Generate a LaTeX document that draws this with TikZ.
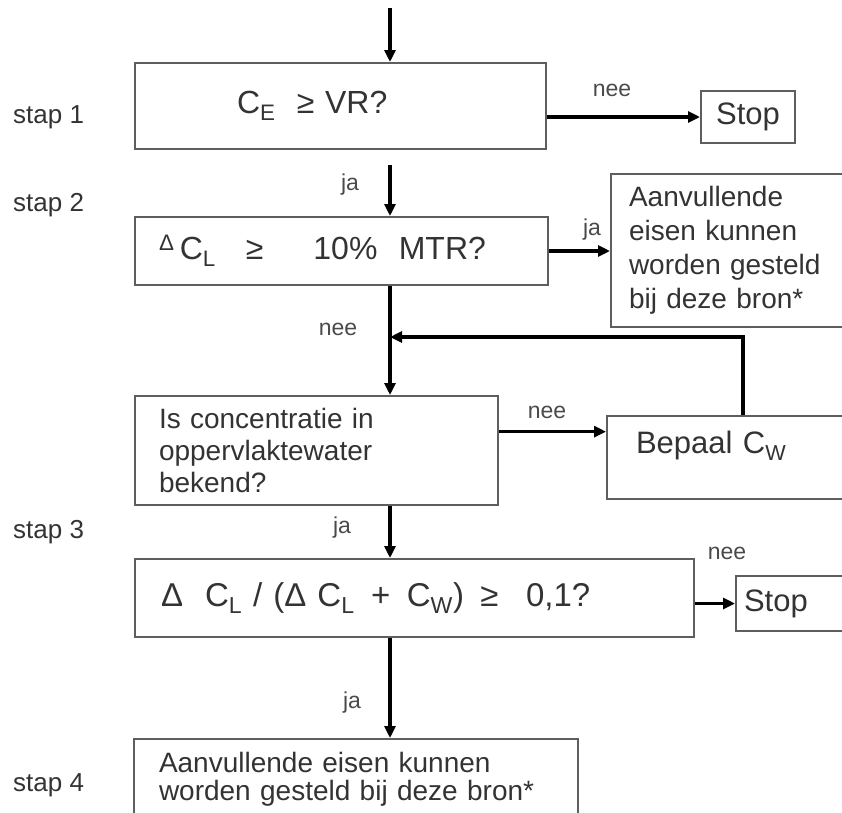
\documentclass[tikz,border=0pt]{standalone}
\usepackage{fontspec}
\setmainfont{Liberation Sans}
\usetikzlibrary{arrows.meta,positioning,calc}
\definecolor{boxgray}{HTML}{5E5E5E}
\definecolor{textgray}{HTML}{333333}
\definecolor{labgray}{HTML}{4A4A4A}

\begin{document}
\begin{tikzpicture}[x=1pt,y=-1pt,
    blok/.style={draw=boxgray,line width=2pt,anchor=north west,inner ysep=0pt,align=left,text=textgray},
    pijl/.style={-{Triangle[length=12pt,width=11pt]},line width=3.2pt},
    lab/.style={inner sep=0pt,text=labgray,font=\fontsize{23}{25}\selectfont},
    stap/.style={anchor=west,inner sep=0pt,text=textgray,font=\fontsize{26}{30}\selectfont}]
  \useasboundingbox (0,0) rectangle (842,812);
  % stappen links
  \foreach \n/\y in {1/117,2/205,3/532,4/785}
    \node[stap] (stap\n) at (13,\y) {stap \n};

  % blokken
  \node[blok,minimum width=411,minimum height=86,inner xsep=102,text width=207,
    font=\fontsize{32}{36}\selectfont] (vraag1) at (134,62) {C\textsubscript{E}\ \ ≥ VR?};
  \node[blok,minimum width=94,minimum height=52,inner xsep=5,text width=84,align=center,
    font=\fontsize{31}{34}\selectfont] (stop1) at (700,90) {Stop};
  \node[blok,minimum width=413,minimum height=68,inner xsep=24,text width=365,
    font=\fontsize{32}{36}\selectfont] (vraag2) at (134,216)
    {\textsuperscript{Δ}\,C\textsubscript{L}\hspace{30pt}≥\hspace{50pt}10\%\ \ MTR?};
  \node[blok,minimum width=260,minimum height=153,inner xsep=18,text width=224,
    font=\fontsize{28}{34}\selectfont] (advies1) at (610,173)
    {Aanvullende\\eisen kunnen\\worden gesteld\\bij deze bron*};
  \node[blok,minimum width=363,minimum height=109,inner xsep=24,text width=315,
    font=\fontsize{28}{32}\selectfont] (vraag3) at (134,395)
    {Is concentratie in\\oppervlaktewater\\bekend?};
  \node[blok,minimum width=272,minimum height=83,inner xsep=29,text width=214,text depth=30pt,
    font=\fontsize{31}{34}\selectfont] (bepaal) at (606,415) {Bepaal C\textsubscript{W}};
  \node[blok,minimum width=559,minimum height=78,inner xsep=26,text width=507,
    font=\fontsize{33}{36}\selectfont] (vraag4) at (134,558)
    {Δ\ \ C\textsubscript{L} / (Δ C\textsubscript{L}\,\ +\,\ C\textsubscript{W})\,\ ≥\ \ \,0,1?};
  \node[blok,minimum width=120,minimum height=55,inner xsep=8,text width=104,
    font=\fontsize{31}{34}\selectfont] (stop2) at (735,575) {Stop};
  \node[blok,minimum width=444,minimum height=80,inner xsep=25,text width=394,
    font=\fontsize{28}{28}\selectfont] (advies2) at (133,738)
    {Aanvullende eisen kunnen\\worden gesteld bij deze bron*};

  % pijlen
  \coordinate (top) at (390,8);
  \coordinate (ja1) at (390,165);
  \coordinate (terug) at (390,337);
  \draw[pijl] (top) -- (top |- vraag1.north);
  \draw[pijl] (vraag1.east |- stop1.west) -- (stop1.west);
  \draw[pijl] (ja1) -- (ja1 |- vraag2.north);
  \draw[pijl] (vraag2.east) -- (vraag2.east -| advies1.west);
  \draw[pijl] (vraag2.south -| top) -- (vraag3.north -| top);
  \draw[pijl] (bepaal.north) |- (terug);
  \draw[pijl] ($(vraag3.north east)!0.33!(vraag3.south east)$) coordinate (uit3) -- (uit3 -| bepaal.west);
  \draw[pijl] (vraag3.south -| top) -- (vraag4.north -| top);
  \draw[pijl] (vraag4.east |- stop2.west) -- (stop2.west);
  \draw[pijl] (vraag4.south -| top) -- (advies2.north -| top);

  % labels
  \node[lab] (nee1) at (612,90) {nee};
  \node[lab] (ja1l) at (350,185) {ja};
  \node[lab] (ja2) at (592,230) {ja};
  \node[lab] (nee2) at (338,329) {nee};
  \node[lab] (nee3) at (547,412) {nee};
  \node[lab] (ja3) at (342,528) {ja};
  \node[lab] (nee4) at (727,553) {nee};
  \node[lab] (ja4) at (352,703) {ja};
\end{tikzpicture}
\end{document}
